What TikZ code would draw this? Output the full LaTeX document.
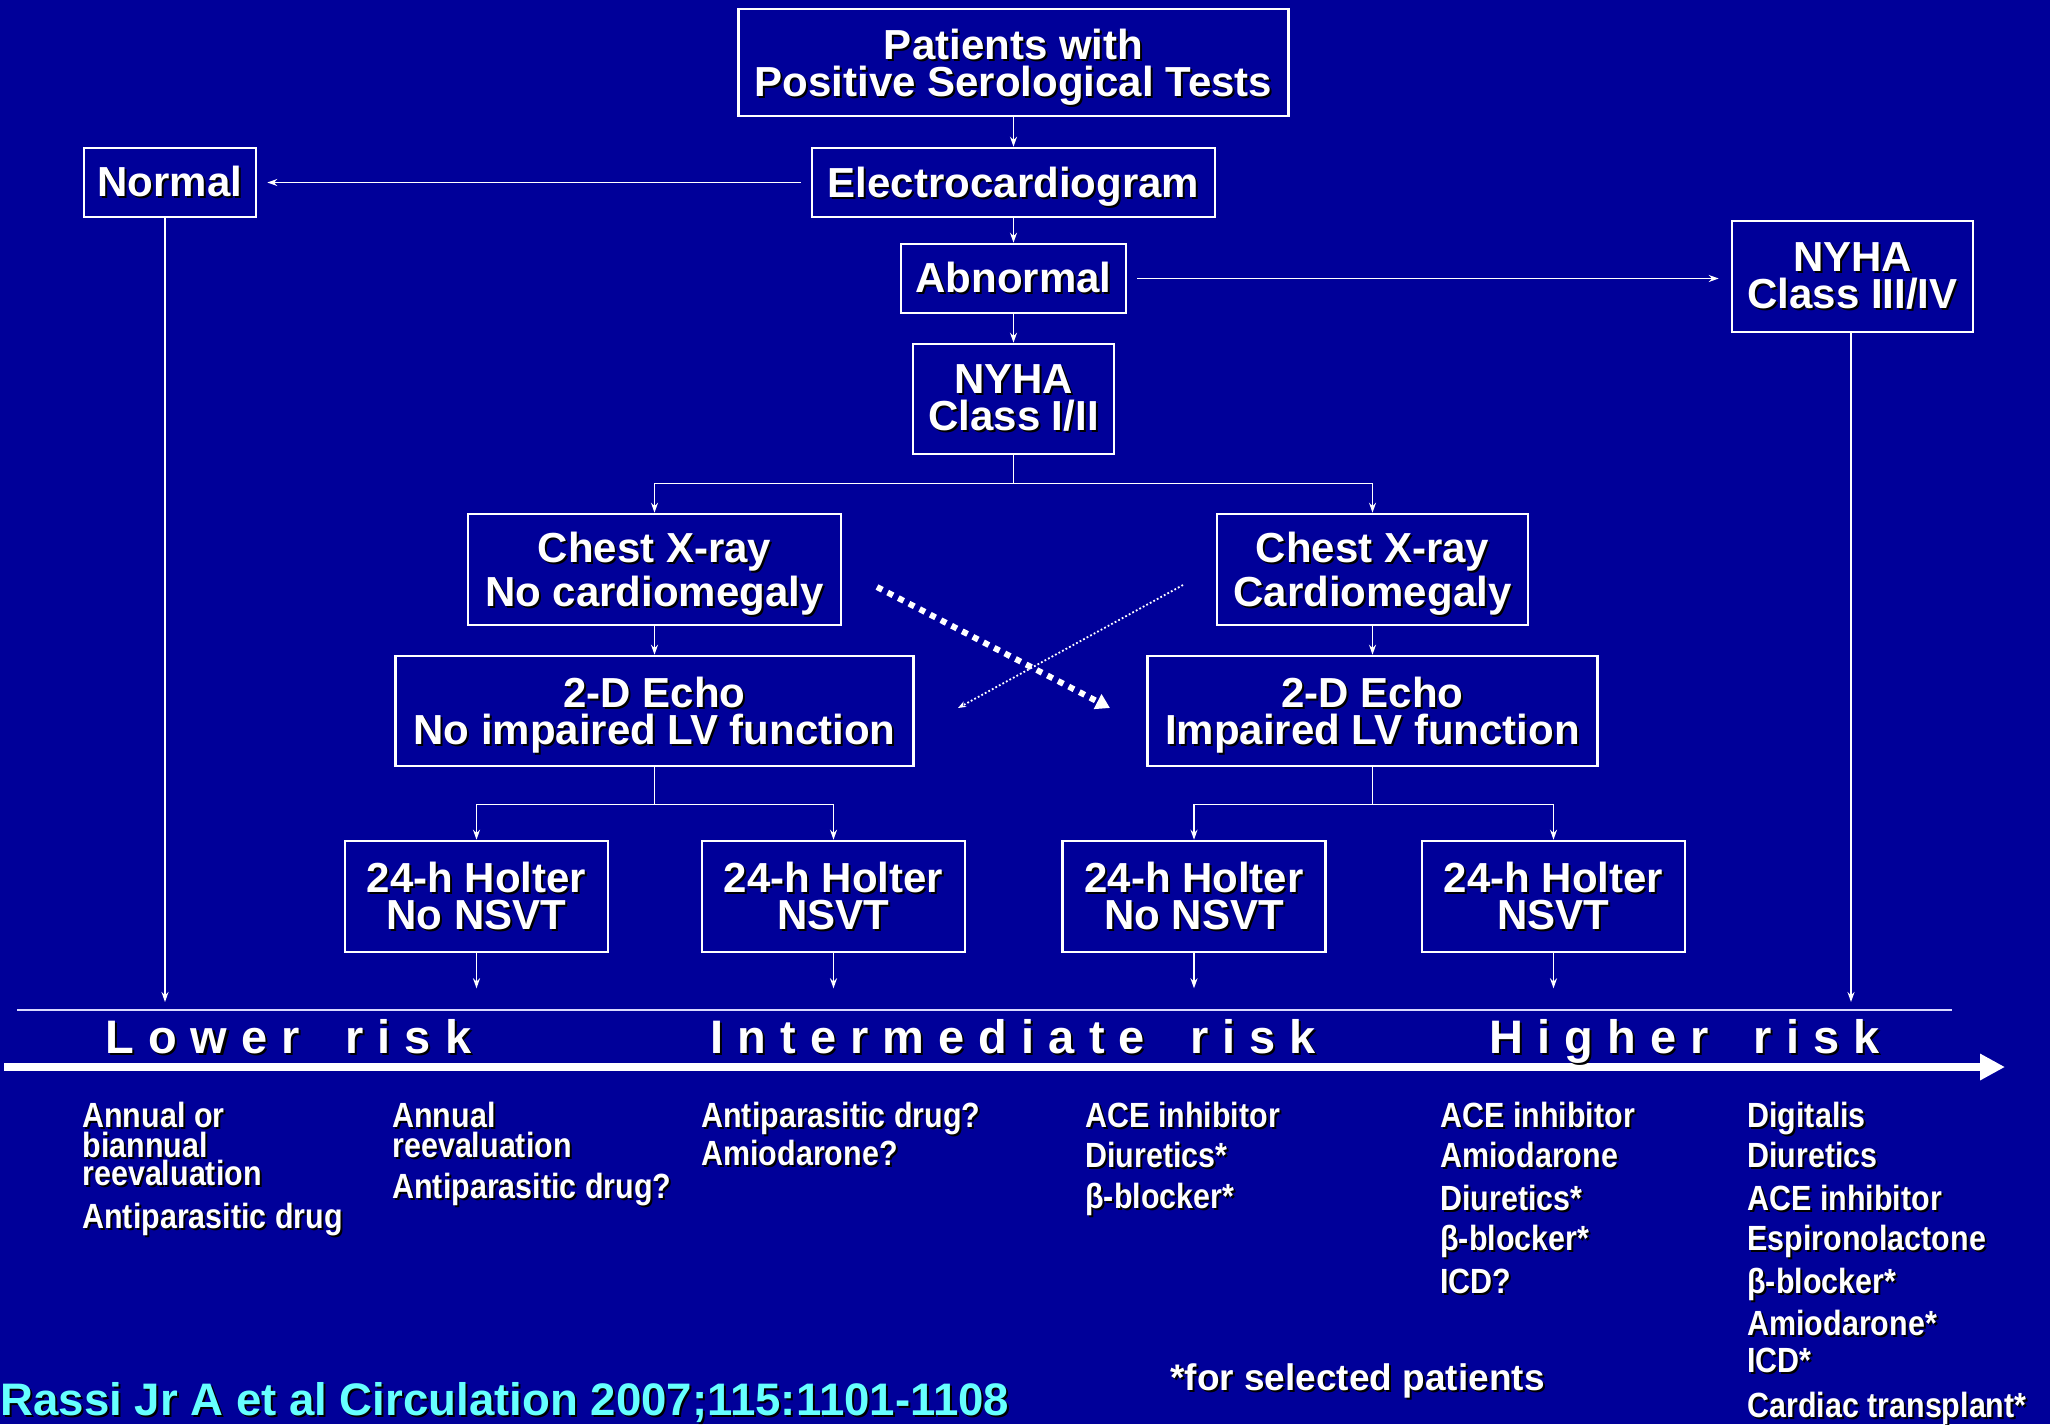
\documentclass[tikz,border=0pt]{standalone}
\usepackage{fontspec}
\setmainfont{Liberation Sans}
\newfontfamily\narrowfont{Liberation Sans}[FakeStretch=0.87]
\newfontfamily\riskfont{Liberation Sans}[LetterSpace=30]
\usetikzlibrary{arrows.meta}
\definecolor{slide}{RGB}{0,0,153}
\definecolor{citecol}{RGB}{102,255,255}
\newcommand\sh[1]{\makebox[0pt][l]{\kern1pt\raisebox{-1pt}{\color{black}#1}}#1}
\newcommand\pushdown{\rule{0pt}{20.5pt}}
\begin{document}
\begin{tikzpicture}[x=0.5pt,y=-0.5pt,>={Stealth[length=5pt,width=3.5pt]},
every node/.style={text=white,font=\bfseries},
box/.style={draw=white,line width=1.3pt,align=center,inner sep=0pt,font=\fontsize{21}{18.5}\selectfont\bfseries},
conn/.style={draw=white,line width=0.8pt,->},
drug/.style={anchor=base west,inner sep=0pt,font=\narrowfont\fontsize{17.5}{17.5}\selectfont\bfseries},
risk/.style={anchor=base west,inner sep=0pt,font=\riskfont\fontsize{23.5}{23.5}\selectfont\bfseries}]
\fill[slide] (0,0) rectangle (2050,1424);
\useasboundingbox (0,0) rectangle (2050,1424);
\node[box,minimum width=275pt,minimum height=53.5pt] (pat) at (1013.5,62.5) {\pushdown\sh{Patients with}\\\sh{Positive Serological Tests}};
\node[box,minimum width=201.5pt,minimum height=34.5pt] (ecg) at (1013.5,182.5) {\pushdown\sh{Electrocardiogram}};
\node[box,minimum width=86pt,minimum height=34.5pt] (norm) at (170,182.5) {\sh{Normal}};
\node[box,minimum width=112.5pt,minimum height=34.5pt] (abn) at (1013.5,278.5) {\sh{Abnormal}};
\node[box,minimum width=100.5pt,minimum height=55pt] (nyha12) at (1013.5,399) {\sh{NYHA}\\\sh{Class I/II}};
\node[box,minimum width=120.5pt,minimum height=55.5pt] (nyha34) at (1852.5,276.5) {\sh{NYHA}\\\sh{Class III/IV}};
\node[box,minimum width=186.5pt,minimum height=55.5pt] (cxr1) at (654.5,569.5) {\pushdown\sh{Chest X-ray}\\\sh{No cardiomegaly}};
\node[box,minimum width=155.5pt,minimum height=55.5pt] (cxr2) at (1372.5,569.5) {\pushdown\sh{Chest X-ray}\\\sh{Cardiomegaly}};
\node[box,minimum width=259pt,minimum height=55pt] (echo1) at (654.5,711) {\pushdown\sh{2-D Echo}\\\sh{No impaired LV function}};
\node[box,minimum width=225pt,minimum height=55pt] (echo2) at (1372.5,711) {\pushdown\sh{2-D Echo}\\\sh{Impaired LV function}};
\foreach \x/\t [count=\i] in {476.5/No NSVT,833.5/NSVT,1194/No NSVT,1553.5/NSVT}
\node[box,minimum width=131.5pt,minimum height=55.5pt] (hol\i) at (\x,896.5) {\sh{24-h Holter}\\\sh{\t}};
\draw[conn] (pat) -- (ecg);
\draw[conn,shorten <=5pt,shorten >=5pt] (ecg.west) -- (norm.east);
\draw[conn] (ecg) -- (abn);
\draw[conn] (abn) -- (nyha12);
\draw[conn,shorten <=5pt,shorten >=6pt] (abn.east) -- (abn.east -| nyha34.west);
\foreach \t in {cxr1,cxr2}
\draw[conn] (nyha12.south) -- ++(0,28) -| (\t.north);
\draw[conn] (cxr1.south) -- (cxr1.south |- echo1.north);
\draw[conn] (cxr2.south) -- (cxr2.south |- echo2.north);
\foreach \t in {hol1,hol2}
\draw[conn] (echo1.south) -- ++(0,37) -| (\t.north);
\foreach \t in {hol3,hol4}
\draw[conn] (echo2.south) -- ++(0,37) -| (\t.north);
\foreach \i in {1,...,4}{
\path (hol\i.south) ++(0,35) coordinate (tip\i);
\draw[conn] (hol\i.south) -- (tip\i);
}
\coordinate (lowtip) at (165,1002);
\coordinate (hightip) at (1851,1002);
\draw[conn] (lowtip |- norm.south) -- (lowtip);
\draw[conn] (hightip |- nyha34.south) -- (hightip);
\coordinate (crossA) at (877,587);
\coordinate (crossB) at (1110,708);
\coordinate (crossC) at (1183,585);
\coordinate (crossD) at (958,708);
\draw[white,line width=3pt,dash pattern=on 3pt off 3pt,-{Triangle[length=7pt,width=8pt]}] (crossA) -- (crossB);
\draw[white,line width=0.9pt,dash pattern=on 0.9pt off 1.1pt,-{Stealth[length=4pt,width=3pt]}] (crossC) -- (crossD);
\draw[blue!15!white,line width=1.4pt] (17,1010) -- (1952,1010);
\draw[white,line width=4pt,-{Triangle[length=12.5pt,width=12.5pt]}] (4,1067) -- (2005,1067);
\node[risk] (lower) at (105,1053) {\sh{Lower\hspace{9pt} risk}};
\node[risk] (inter) at (710,1053) {\sh{Intermediate\hspace{9pt} risk}};
\node[risk] (higher) at (1489,1053) {\sh{Higher\hspace{9pt} risk}};
\foreach \x/\y/\t [count=\i] in {
82/1127/Annual or,82/1157/biannual,82/1185/reevaluation,82/1228/Antiparasitic drug,
392/1127/Annual,392/1157/reevaluation,392/1198/Antiparasitic drug?,
701/1127/Antiparasitic drug?,701/1165/Amiodarone?,
1085/1127/ACE inhibitor,1085/1167/Diuretics*,1085/1208/β-blocker*,
1440/1127/ACE inhibitor,1440/1167/Amiodarone,1440/1210/Diuretics*,1440/1250/β-blocker*,1440/1293/ICD?,
1747/1127/Digitalis,1747/1167/Diuretics,1747/1210/ACE inhibitor,1747/1250/Espironolactone,
1747/1293/β-blocker*,1747/1335/Amiodarone*,1747/1372/ICD*,1747/1417/Cardiac transplant*}
\node[drug] (drug\i) at (\x,\y) {\sh{\t}};
\node[anchor=base west,inner sep=0pt,font=\fontsize{18.5}{18.5}\selectfont\bfseries] (note) at (1170,1390) {\sh{*for selected patients}};
\node[anchor=base west,inner sep=0pt,text=citecol,font=\fontsize{22.8}{22.8}\selectfont\bfseries] (cite) at (0,1415) {\sh{Rassi Jr A et al Circulation 2007;115:1101-1108}};
\end{tikzpicture}
\end{document}
